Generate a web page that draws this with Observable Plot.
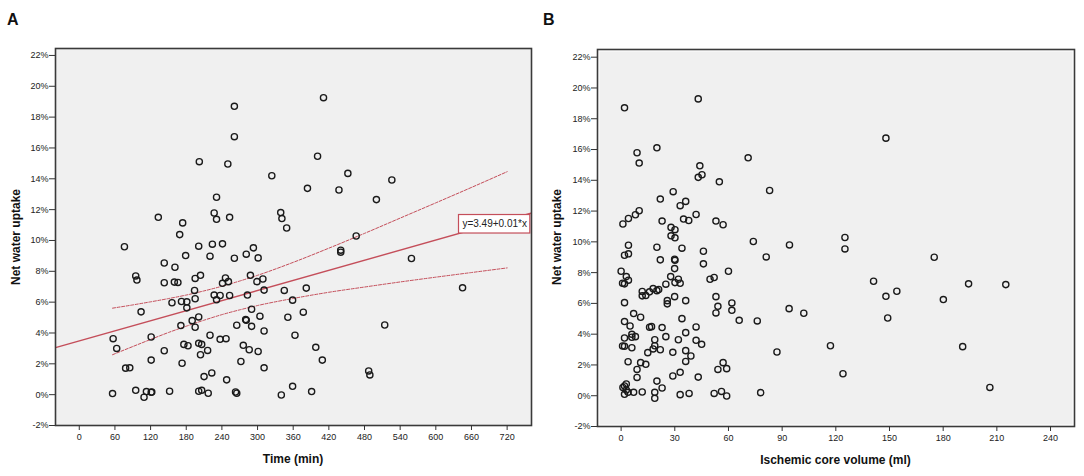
<!DOCTYPE html>
<html><head><meta charset="utf-8">
<script src="https://cdn.jsdelivr.net/npm/d3@7"></script>
<script src="https://cdn.jsdelivr.net/npm/@observablehq/plot@0.6"></script>
<style>
body{margin:0;background:#fff;font-family:"Liberation Sans",Arial,sans-serif;}
#wrap{position:relative;width:1084px;height:476px;overflow:hidden;background:#fff;}
#wrap > svg{position:absolute;top:0;}
</style></head><body><div id="wrap"></div>
<script>
// ---------- Panel A: Time (min) vs Net water uptake (%) ----------
const timeMin = [411,261,261,401,202,250,452,526,324,384,437,500,231,133,174,227,231,253,339,341,349,169,466,
  76,201,224,241,293,179,220,281,301,261,440,440,559,143,161,95,97,204,288,143,160,166,195,246,241,251,299,309,
  194,195,227,231,237,253,283,311,345,382,359,645,156,172,181,181,104,290,377,190,201,304,351,280,281,171,195,
  265,290,311,514,57,121,220,237,247,363,63,143,176,183,201,206,216,276,286,301,204,398,78,85,121,173,272,311,
  409,487,489,210,223,248,359,56,95,109,113,121,122,152,201,206,217,263,265,340,391];
const uptakeA = [19.26,18.70,16.73,15.46,15.11,14.96,14.35,13.92,14.20,13.38,13.27,12.65,12.80,11.50,11.14,11.78,11.37,11.50,11.81,11.42,10.81,10.38,10.29,
  9.59,9.63,9.76,9.78,9.52,9.02,8.98,9.11,8.87,8.85,9.37,9.24,8.83,8.54,8.26,7.70,7.43,7.74,7.74,7.26,7.30,7.28,7.54,7.57,7.22,7.33,7.33,7.50,
  6.76,6.22,6.46,6.15,6.43,6.43,6.46,6.78,6.76,6.91,6.13,6.93,5.96,6.04,6.02,5.63,5.37,5.54,5.35,4.80,5.04,5.09,5.02,4.87,4.82,4.48,4.37,
  4.50,4.43,4.13,4.52,3.63,3.74,3.85,3.59,3.63,3.85,3.00,2.85,3.26,3.17,3.33,3.26,2.87,3.20,2.91,2.80,2.59,3.07,1.72,1.74,2.24,2.04,2.15,1.74,
  2.24,1.54,1.28,1.17,1.41,0.96,0.54,0.07,0.28,-0.17,0.20,0.15,0.17,0.22,0.22,0.28,0.09,0.17,0.09,-0.02,0.20];

// fitted line (read at the frame edges) and 95% mean confidence band
const fitX = [-40, 760];
const fitY = [3.05, 11.77];
const bandX     = [56, 90, 120, 150, 180, 210, 240, 270, 300, 360, 420, 480, 540, 600, 660, 720];
const bandUpper = [5.61,5.82,6.02,6.23,6.46,6.73,7.03,7.37,7.74,8.58,9.50,10.46,11.45,12.44,13.44,14.46];
const bandLower = [2.59,3.12,3.58,4.03,4.44,4.83,5.19,5.50,5.78,6.24,6.64,6.98,7.31,7.62,7.92,8.22];
const equationText = "y=3.49+0.01*x";

// ---------- Panel B: Ischemic core volume (ml) vs Net water uptake (%) ----------
const coreVol = [1.9,43.1,148.0,20.0,8.9,10.1,71.0,44.0,43.1,45.2,54.9,29.1,83.0,21.9,36.1,33.0,10.1,8.0,4.1,1.0,41.9,22.9,34.9,37.8,53.0,57.0,27.9,30.1,27.9,30.1,125.1,73.9,
  4.1,1.9,4.1,20.0,34.0,21.9,29.9,30.1,46.0,46.0,94.1,125.1,81.1,175.0,0,2.9,0.8,1.9,4.1,29.9,27.7,32.0,30.1,33.0,25.0,49.7,52.0,60.0,141.1,194.2,215.0,
  11.8,11.8,13.8,15.9,17.9,20.0,21.0,25.8,25.8,29.9,36.1,53.0,54.1,53.0,61.9,61.9,66.0,76.1,93.9,102.1,148.0,154.1,149.0,180.1,
  1.9,7.0,10.9,1.9,5.0,6.0,6.0,8.0,1.9,0.8,1.9,6.0,3.9,8.9,8.9,10.9,13.8,15.9,17.0,22.9,18.8,18.8,14.9,17.9,21.9,25.0,28.9,32.0,34.0,36.1,36.1,36.1,39.0,41.9,41.9,45.0,
  28.9,33.0,43.1,20.0,22.9,57.0,54.1,59.0,87.1,117.0,124.0,190.9,206.1,
  1.9,2.9,1.0,1.9,2.9,3.9,7.0,11.8,18.8,18.8,33.0,38.0,52.0,56.1,59.0,78.0];
const uptakeB = [18.71,19.29,16.74,16.11,15.79,15.12,15.46,14.94,14.19,14.36,13.90,13.26,13.34,12.78,12.63,12.35,12.02,11.76,11.52,11.16,11.78,11.35,11.48,11.39,11.35,11.11,10.94,10.79,10.39,10.26,10.28,10.02,
  9.78,9.13,9.22,9.65,9.59,8.83,8.87,8.80,9.39,8.57,9.80,9.54,9.02,9.00,8.09,7.74,7.31,7.27,7.51,8.26,7.74,7.57,7.35,7.31,7.25,7.57,7.68,8.09,7.44,7.27,7.22,
  6.77,6.49,6.51,6.75,6.96,6.83,6.90,6.18,5.97,6.44,6.18,6.44,5.81,5.38,6.03,5.55,4.90,4.86,5.66,5.36,6.46,6.79,5.05,6.25,
  6.05,5.34,5.10,4.82,4.53,3.99,3.80,3.84,3.75,3.23,3.21,3.12,2.21,1.71,1.19,2.15,2.04,4.45,4.49,4.43,3.64,3.25,2.80,3.04,2.99,3.84,2.82,3.64,5.01,4.10,2.93,2.23,2.58,4.47,3.60,3.34,
  1.28,1.52,1.21,0.95,0.50,2.15,1.71,1.76,2.84,3.25,1.43,3.19,0.54,
  0.63,0.76,0.54,0.09,0.37,0.22,0.22,0.24,0.22,-0.17,0.07,0.15,0.15,0.28,-0.02,0.20];

const yTicks = [-2,0,2,4,6,8,10,12,14,16,18,20,22];
const xTicksA = [0,60,120,180,240,300,360,420,480,540,600,660,720];
const xTicksB = [0,30,60,90,120,150,180,210,240];

// ---------- build tables ----------
const ptsA = timeMin.map((x,i)=>({x, y: uptakeA[i]}));
const ptsB = coreVol.map((x,i)=>({x, y: uptakeB[i]}));
const fit = fitX.map((x,i)=>({x, y: fitY[i]}));
const up = bandX.map((x,i)=>({x, y: bandUpper[i]}));
const lo = bandX.map((x,i)=>({x, y: bandLower[i]}));

const RED = "#c44e5a";
const FRAME = "#3a3a3a";
const BG = "#f0f0f0";
const style = {fontFamily:"'Liberation Sans', Arial, sans-serif", fontSize:"9px", color:"#222", background:"transparent", overflow:"visible"};

// equation box anchored where the fit line meets x = 639
const boxX1 = 639, boxX2 = 759;
const fitAt = x => fitY[0] + (fitY[1]-fitY[0])*(x-fitX[0])/(fitX[1]-fitX[0]);
const boxY1 = fitAt(boxX1), boxY2 = boxY1 + 1.2;
const eq = [{x1:boxX1, x2:boxX2, y1:boxY1, y2:boxY2, text:equationText}];

const pctFmt = d => d + "%";

const plotA = Plot.plot({
  width: 541, height: 476,
  marginLeft: 55, marginRight: 10, marginTop: 48, marginBottom: 51,
  style,
  x: {domain: [-40, 761]},
  y: {domain: [-2, 22.45]},
  marks: [
    Plot.frame({fill: BG}),
    Plot.line(up, {x:"x", y:"y", stroke: RED, strokeWidth: 1, strokeDasharray: "3,1.6", curve: "monotone-x"}),
    Plot.line(lo, {x:"x", y:"y", stroke: RED, strokeWidth: 1, strokeDasharray: "3,1.6", curve: "monotone-x"}),
    Plot.line(fit, {x:"x", y:"y", stroke: RED, strokeWidth: 1.4, clip: true}),
    Plot.dot(ptsA, {x:"x", y:"y", r: 3.1, stroke: "#1a1a1a", strokeWidth: 1.35, fill: "none"}),
    Plot.rect(eq, {x1:"x1", x2:"x2", y1:"y1", y2:"y2", fill: "#fff", stroke: RED, strokeWidth: 1.2}),
    Plot.text(eq, {x: d => (d.x1+d.x2)/2, y: d => (d.y1+d.y2)/2, text: "text", fontSize: 10, fill: "#222"}),
    Plot.frame({stroke: FRAME, strokeWidth: 1.6}),
    Plot.axisY({ticks: yTicks, tickFormat: pctFmt, tickSize: 6, tickPadding: 1, label: null, stroke: "#333"}),
    Plot.axisX({ticks: xTicksA, tickSize: 5, tickPadding: 3, label: null, stroke: "#333"})
  ]
});
plotA.style.left = "0px";

const plotB = Plot.plot({
  width: 543, height: 476,
  marginLeft: 56, marginRight: 10, marginTop: 49, marginBottom: 50,
  style,
  x: {domain: [-13.2, 253.4]},
  y: {domain: [-2, 22.5]},
  marks: [
    Plot.frame({fill: BG, inset: 2}),
    Plot.dot(ptsB, {x:"x", y:"y", r: 3.1, stroke: "#1a1a1a", strokeWidth: 1.35, fill: "none"}),
    Plot.frame({stroke: FRAME, strokeWidth: 1.6}),
    Plot.axisY({ticks: yTicks, tickFormat: pctFmt, tickSize: 6, tickPadding: 1, label: null, stroke: "#333"}),
    Plot.axisX({ticks: xTicksB, tickSize: 5, tickPadding: 3, label: null, stroke: "#333"})
  ]
});
plotB.style.left = "541px";

const wrap = document.getElementById("wrap");
wrap.appendChild(plotA);
wrap.appendChild(plotB);

// titles overlay
const ov = d3.select(wrap).append("svg")
  .attr("width", 1084).attr("height", 476)
  .style("left", "0px").style("pointer-events", "none")
  .style("font-family", "'Liberation Sans', Arial, sans-serif");
const titles = [
  {t:"A", x:7, y:25, size:16, anchor:"start", rot:0},
  {t:"B", x:543, y:25, size:16, anchor:"start", rot:0},
  {t:"Net water uptake", x:19.5, y:237, size:12, anchor:"middle", rot:-90},
  {t:"Net water uptake", x:561, y:237, size:12, anchor:"middle", rot:-90},
  {t:"Time (min)", x:293, y:462.5, size:12, anchor:"middle", rot:0},
  {t:"Ischemic core volume (ml)", x:835.5, y:464, size:12, anchor:"middle", rot:0}
];
ov.selectAll("text").data(titles).join("text")
  .attr("transform", d => `translate(${d.x},${d.y}) rotate(${d.rot})`)
  .attr("text-anchor", d => d.anchor)
  .attr("font-size", d => d.size)
  .attr("font-weight", "bold")
  .attr("fill", "#111")
  .text(d => d.t);
</script></body></html>
